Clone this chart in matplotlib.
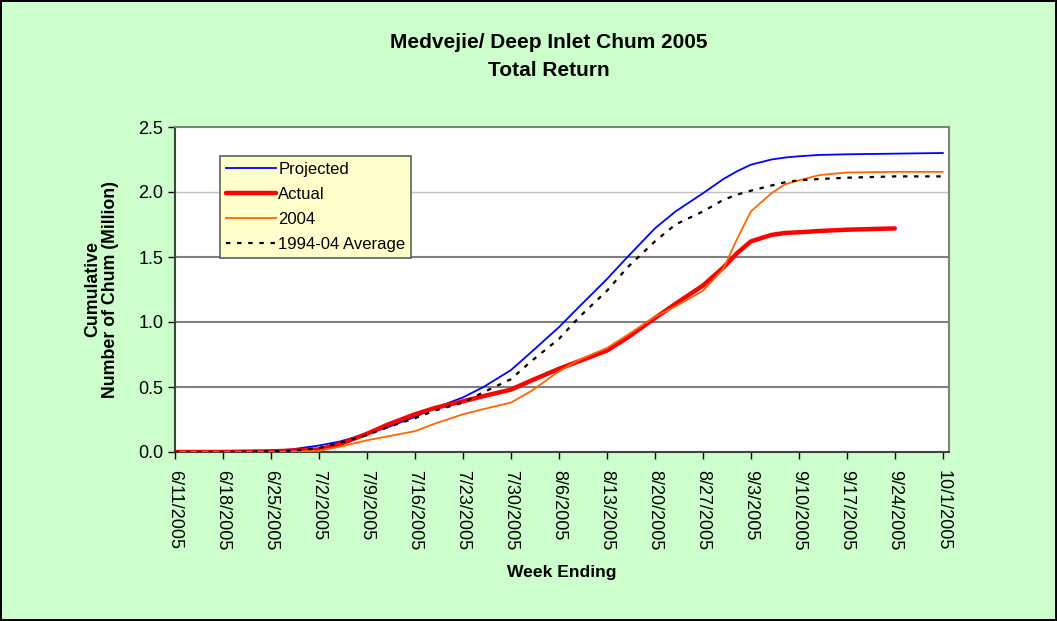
import matplotlib
matplotlib.use("Agg")
import matplotlib.pyplot as plt
import datetime as dt

plt.rcParams['font.family'] = ['Liberation Sans', 'DejaVu Sans']

start = dt.date(2005, 6, 11)

# days after 6/11/2005
days = [0, 7, 14, 17, 21, 24, 28, 31, 35, 38, 42, 45, 49, 52, 56, 59, 63,
        66, 70, 73, 77, 80, 82, 84, 87, 89, 91, 94, 98, 105, 112]

projected = [0, 0, 0.01, 0.02, 0.05, 0.08, 0.14, 0.19, 0.27, 0.34, 0.42, 0.50,
             0.63, 0.77, 0.96, 1.12, 1.33, 1.50, 1.72, 1.85, 1.99, 2.10, 2.16,
             2.21, 2.25, 2.265, 2.275, 2.285, 2.29, 2.295, 2.30]
actual = [0, 0, 0.005, 0.01, 0.02, 0.06, 0.14, 0.21, 0.29, 0.34, 0.39, 0.43,
          0.48, 0.55, 0.64, 0.70, 0.78, 0.88, 1.03, 1.14, 1.28, 1.42, 1.53,
          1.62, 1.67, 1.685, 1.69, 1.70, 1.71, 1.72]
y2004 = [0, 0, 0, 0.002, 0.01, 0.04, 0.09, 0.12, 0.16, 0.22, 0.29, 0.33, 0.38,
         0.47, 0.62, 0.71, 0.80, 0.90, 1.04, 1.12, 1.24, 1.41, 1.64, 1.85, 1.99,
         2.06, 2.09, 2.13, 2.15, 2.155, 2.155]
average = [0, 0, 0.005, 0.01, 0.03, 0.07, 0.13, 0.19, 0.26, 0.32, 0.38, 0.46,
           0.56, 0.70, 0.87, 1.04, 1.24, 1.42, 1.62, 1.75, 1.85, 1.94, 1.98,
           2.01, 2.05, 2.075, 2.09, 2.10, 2.11, 2.12, 2.12]

tick_days = list(range(0, 113, 7))
tick_labels = []
for d in tick_days:
    t = start + dt.timedelta(days=d)
    tick_labels.append(f"{t.month}/{t.day}/{t.year}")

fig = plt.figure(figsize=(10.57, 6.21), dpi=100)
fig.patch.set_facecolor('#CCFFCC')
fig.patch.set_edgecolor('black')
fig.patch.set_linewidth(1.5)

ax = fig.add_axes([175/1057, 1-452/621, 774/1057, 325/621])
ax.set_facecolor('white')

for yv, col, lw in [(0.5, '#808080', 1.5), (1.0, '#808080', 1.5),
                    (1.5, '#808080', 1.5), (2.0, '#C0C0C0', 1.0)]:
    ax.axhline(yv, color=col, lw=lw, zorder=1)

ax.plot(days, projected, color='#0000FF', lw=1.3, label='Projected', zorder=3)
ax.plot(days[:len(actual)], actual, color='#FF0000', lw=3.2, label='Actual',
        zorder=4, solid_capstyle='round')
ax.plot(days, y2004, color='#FF6600', lw=1.3, label='2004', zorder=5)
ax.plot(days, average, color='black', lw=1.6, ls=(0, (2, 3)),
        label='1994-04 Average', zorder=6)

ax.set_xlim(0, 112.9)
ax.set_ylim(0, 2.5)
ax.set_yticks([0, 0.5, 1.0, 1.5, 2.0, 2.5])
ax.set_yticklabels(['0.0', '0.5', '1.0', '1.5', '2.0', '2.5'], fontsize=13)
ax.set_xticks(tick_days)
ax.set_xticklabels(tick_labels, rotation=-90, fontsize=13)
ax.tick_params(axis='both', direction='out', length=5, color='black', width=1)
ax.tick_params(axis='x', pad=8)

for s in ['top', 'right']:
    ax.spines[s].set_color('#808080')
    ax.spines[s].set_linewidth(1.5)
for s in ['left', 'bottom']:
    ax.spines[s].set_color('#404040')
    ax.spines[s].set_linewidth(1.5)

leg = ax.legend(loc='upper left', bbox_to_anchor=(0.058, 0.911), fontsize=12,
                frameon=True, fancybox=False, handlelength=3.0,
                handletextpad=0.15, borderpad=0.35, labelspacing=0.6,
                borderaxespad=0)
leg.get_frame().set_facecolor('#FFFFCC')
leg.get_frame().set_edgecolor('#606060')
leg.get_frame().set_alpha(1)
leg.get_frame().set_linewidth(1.2)

fig.text(549/1057, 1-42/621, 'Medvejie/ Deep Inlet Chum 2005',
         ha='center', va='center', fontsize=15, fontweight='bold')
fig.text(549/1057, 1-70/621, 'Total Return',
         ha='center', va='center', fontsize=15, fontweight='bold')
fig.text(102/1057, 1-289/621, 'Cumulative\nNumber of Chum (Million)',
         ha='center', va='center', rotation=90, fontsize=12.8,
         fontweight='bold', linespacing=1.05)
fig.text(562/1057, 1-573/621, 'Week Ending', ha='center', va='center',
         fontsize=12.6, fontweight='bold')

fig.savefig('out.png', dpi=100, facecolor=fig.get_facecolor(),
            edgecolor=fig.get_edgecolor())
